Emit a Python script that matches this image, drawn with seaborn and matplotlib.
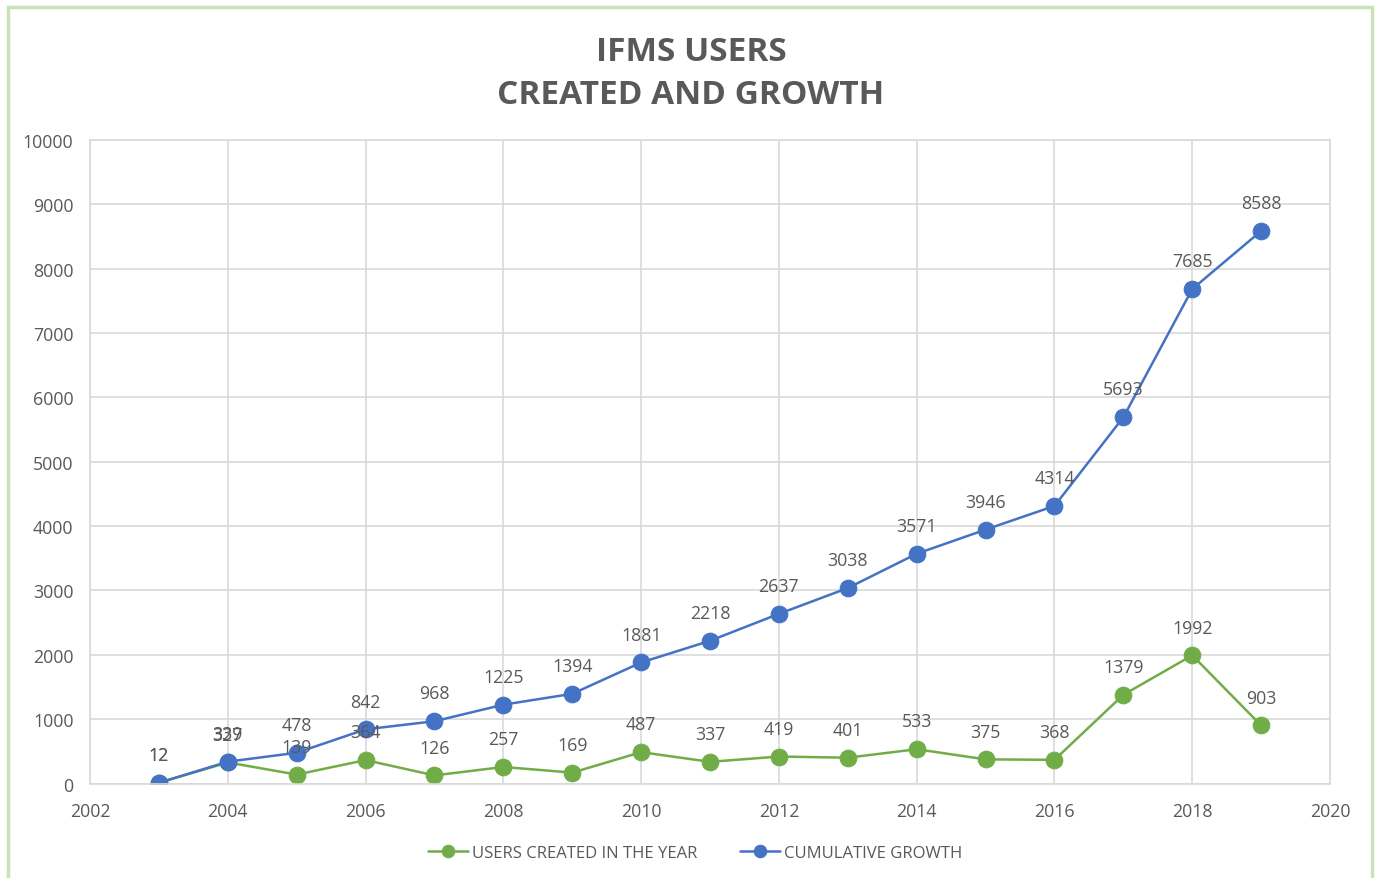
import matplotlib
matplotlib.use("Agg")
import matplotlib.pyplot as plt
import matplotlib.patches as patches
import seaborn as sns
import pandas as pd

years = list(range(2003, 2020))
users_created = [12, 327, 139, 364, 126, 257, 169, 487, 337, 419, 401, 533, 375, 368, 1379, 1992, 903]
cumulative = [12, 339, 478, 842, 968, 1225, 1394, 1881, 2218, 2637, 3038, 3571, 3946, 4314, 5693, 7685, 8588]

GREEN = "#70AD47"
BLUE = "#4472C4"
TEXT = "#595959"
GRID = "#D9D9D9"

sns.set_style("white")
plt.rcParams["font.family"] = ["Open Sans", "DejaVu Sans"]

df = pd.DataFrame({"year": years, "created": users_created, "cumulative": cumulative})

fig = plt.figure(figsize=(13.79, 8.79), dpi=100)
ax = fig.add_axes([0.0653, 0.1075, 0.8992, 0.732])

sns.lineplot(data=df, x="year", y="created", ax=ax, color=GREEN, marker="o",
             markersize=12, linewidth=1.8, markeredgecolor=GREEN,
             label="USERS CREATED IN THE YEAR")
sns.lineplot(data=df, x="year", y="cumulative", ax=ax, color=BLUE, marker="o",
             markersize=12, linewidth=1.8, markeredgecolor=BLUE,
             label="CUMULATIVE GROWTH")

for x, y in zip(years, users_created):
    ax.annotate(str(y), (x, y), xytext=(0, 20), textcoords="offset points",
                ha="center", va="center", fontsize=12.8, color=TEXT)
for x, y in zip(years, cumulative):
    ax.annotate(str(y), (x, y), xytext=(0, 20), textcoords="offset points",
                ha="center", va="center", fontsize=12.8, color=TEXT)

ax.set_xlim(2002, 2020)
ax.set_ylim(0, 10000)
ax.set_xticks(range(2002, 2021, 2))
ax.set_yticks(range(0, 10001, 1000))
ax.grid(True, color=GRID, linewidth=1.2)
ax.set_axisbelow(True)
for s in ax.spines.values():
    s.set_color(GRID)
    s.set_linewidth(1.2)
ax.tick_params(axis="both", length=0, labelsize=12.8, colors=TEXT)
ax.tick_params(axis="x", pad=13)
ax.tick_params(axis="y", pad=12)
ax.set_xlabel("")
ax.set_ylabel("")

fig.text(0.501, 0.916, "IFMS USERS\nCREATED AND GROWTH", fontsize=24, fontweight="bold",
         color=TEXT, ha="center", va="center", linespacing=1.4)

ax.get_legend().remove()
handles, labels = ax.get_legend_handles_labels()
fig.legend(handles, labels, loc="center", bbox_to_anchor=(0.504, 0.029), ncol=2,
           frameon=False, fontsize=12, labelcolor=TEXT, handlelength=2.4,
           columnspacing=2.6, handletextpad=0.2, markerscale=0.75)

fig.patches.append(patches.Rectangle((8 / 1379, -0.01), 1364 / 1379, 1 - 8 / 879 + 0.01,
                                     transform=fig.transFigure, fill=False,
                                     edgecolor="#C9E2B8", linewidth=2.5))

fig.savefig("out.png", dpi=100)
